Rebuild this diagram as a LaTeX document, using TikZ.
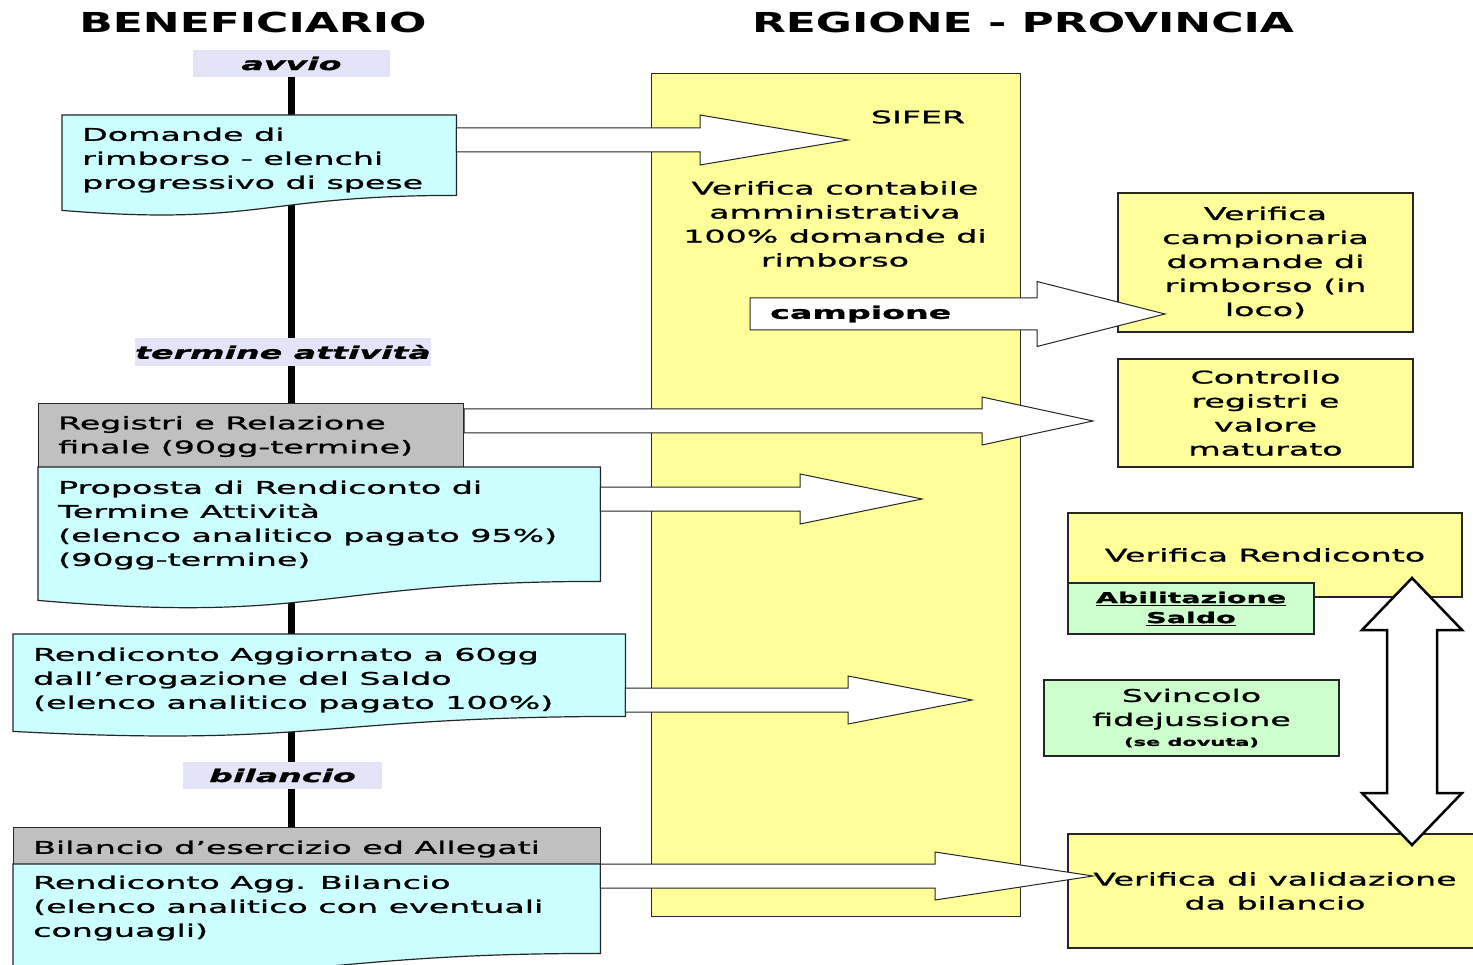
\documentclass[tikz,border=0pt]{standalone}
\usepackage{fontspec}
\setmainfont[FakeStretch=1.9,FakeBold=1.2]{DejaVu Sans}
\newfontfamily\headfont[FakeStretch=1.6]{DejaVu Sans}
\usetikzlibrary{calc,backgrounds}
\definecolor{azzurro}{RGB}{204,255,255}
\definecolor{giallo}{RGB}{255,255,153}
\definecolor{verde}{RGB}{204,255,204}
\definecolor{grigio}{RGB}{192,192,192}
\definecolor{lavanda}{RGB}{228,228,248}
\newcommand{\docwave}[3]{\draw[doc] (#1.north west) -- (#1.north east) -- (#1.south east) .. controls (#1.south) and ([yshift=-#3]#1.south) .. ([yshift=-#2]#1.south west) -- cycle;}

\begin{document}
\begin{tikzpicture}[x=1pt,y=-1pt,line join=miter,
  txt/.style={font=\fontsize{17.5}{24}\selectfont,inner sep=0pt},
  ltxt/.style={txt,align=left,anchor=west,yshift=-3pt},
  blank/.style={anchor=north west,inner sep=0pt},
  grey/.style={blank,draw=black!85,line width=1.2pt,fill=grigio},
  doc/.style={draw=black!85,line width=1.2pt,fill=azzurro},
  yel/.style={txt,align=center,draw=black!85,line width=1.2pt,fill=giallo},
  grn/.style={txt,align=center,draw=black!85,line width=1.2pt,fill=verde},
  lab/.style={fill=lavanda,inner sep=0pt,font=\fontsize{17.5}{24}\selectfont\bfseries\itshape},
  head/.style={font=\headfont\bfseries\fontsize{27.5}{30}\selectfont},
  timeline/.style={line width=7pt},
  fat/.style n args={3}{draw=black!85,fill=white,line width=1pt,
    to path={let \p1=(\tikztostart),\p2=(\tikztotarget) in
      (\x1,\y2+#2) -- (\x2-#1,\y2+#2) -- (\x2-#1,\y2+#3) -- (\x2,\y2)
      -- (\x2-#1,\y2-#3) -- (\x2-#1,\y2-#2) -- (\x1,\y2-#2) -- cycle}},
  dbl/.style={draw=black,line width=2.5pt,fill=white}]
\useasboundingbox (0,0) rectangle (1473,965);
\clip (0,0) rectangle (1473,965);

\node[head] (benef) at (253,22) {BENEFICIARIO};
\node[head] (regprov) at (1023,22) {REGIONE - PROVINCIA};

\node[lab,minimum width=197pt,minimum height=27pt] (avvio) at (291.5,63.5) {avvio};
\node[lab,minimum width=296pt,minimum height=28pt] (termine) at (283,352) {termine attività};
\node[lab,minimum width=199pt,minimum height=27pt] (bilancio) at (282.5,775.5) {bilancio};

\node[yel,blank,minimum width=369pt,minimum height=843pt] (sifer) at (651,73) {};

\node[blank,minimum width=394pt,minimum height=80pt] (dom) at (62,115) {};
\docwave{dom}{15pt}{31pt}
\node[grey,minimum width=425pt,minimum height=64pt] (reg) at (38,403) {};
\node[blank,minimum width=562pt,minimum height=114pt] (prop) at (38,467) {};
\docwave{prop}{19pt}{43pt}
\node[blank,minimum width=612pt,minimum height=82pt] (ragg) at (13,634) {};
\docwave{ragg}{15pt}{31pt}
\node[grey,minimum width=587pt,minimum height=37pt] (bes) at (13,827) {};
\node[blank,minimum width=587pt,minimum height=89pt] (rbil) at (13,864) {};
\docwave{rbil}{16pt}{34pt}

\node[yel,minimum width=295pt,minimum height=139pt] (camp) at (1265.5,262.5) {Verifica\\campionaria\\domande di\\rimborso (in\\loco)};
\node[yel,minimum width=295pt,minimum height=108pt] (contr) at (1265.5,413) {Controllo\\registri e\\valore\\maturato};
\node[yel,minimum width=394pt,minimum height=84pt] (verrend) at (1265,555) {Verifica Rendiconto};
\node[grn,minimum width=246pt,minimum height=51pt,font=\fontsize{15}{20}\selectfont\bfseries] (abil) at (1191,608.5) {\underline{Abilitazione}\\\underline{Saldo}};
\node[grn,minimum width=295pt,minimum height=76pt] (svinc) at (1191.5,718) {Svincolo\\fidejussione\\[-4pt]{\fontsize{11}{13}\selectfont\bfseries (se dovuta)}};
\node[yel,minimum width=414pt,minimum height=114pt] (valid) at (1275,891) {Verifica di validazione\\da bilancio};

\coordinate (a1) at (848,140);
\coordinate (a2) at (1093,421);
\coordinate (a3) at (922,499);
\coordinate (a4) at (972,700);
\coordinate (a5) at (1093,876);
\coordinate (cs) at (750,314);
\coordinate (tc) at (1165,314);
\draw[fat={148pt}{12pt}{25pt}] (dom.east) to (a1);
\draw[fat={111pt}{12pt}{24pt}] (reg.east) to (a2);
\draw[fat={122pt}{12pt}{25pt}] (prop.east) to (a3);
\draw[fat={124pt}{12pt}{24pt}] (ragg.east) to (a4);
\draw[fat={158pt}{12pt}{24pt}] (rbil.east) to (a5);
\draw[fat={128pt}{16pt}{32.5pt}] (cs) to (tc);

\coordinate (up) at (1412,578);
\coordinate (dn) at (1412,845);
\draw[dbl] (up) -- ++(50,52) -- ++(-25,0) -- ++(0,163) -- ++(25,0) -- (dn) -- ++(-50,-52) -- ++(25,0) -- ++(0,-163) -- ++(-25,0) -- cycle;

\node[ltxt] (domt) at (82,157) {Domande di\\rimborso - elenchi\\progressivo di spese};
\node[ltxt] (regt) at (58,433.5) {Registri e Relazione\\finale (90gg-termine)};
\node[ltxt] (propt) at (58,522) {Proposta di Rendiconto di\\Termine Attività\\(elenco analitico pagato 95\%)\\(90gg-termine)};
\node[ltxt] (raggt) at (33,677) {Rendiconto Aggiornato a 60gg\\dall’erogazione del Saldo\\(elenco analitico pagato 100\%)};
\node[ltxt] (best) at (33,846) {Bilancio d’esercizio ed Allegati};
\node[ltxt] (rbilt) at (33,905) {Rendiconto Agg. Bilancio\\(elenco analitico con eventuali\\conguagli)};
\node[txt] (sifert) at (918,117) {SIFER};
\node[txt,align=center] (vercont) at (835,224) {Verifica contabile\\amministrativa\\100\% domande di\\rimborso};
\node[txt,anchor=west,font=\fontsize{17.5}{24}\selectfont\bfseries] (campt) at (770,314) {campione};

\begin{scope}[on background layer]
\draw[timeline] (avvio.south) -- (avvio.south |- bes.north);
\end{scope}
\end{tikzpicture}
\end{document}
